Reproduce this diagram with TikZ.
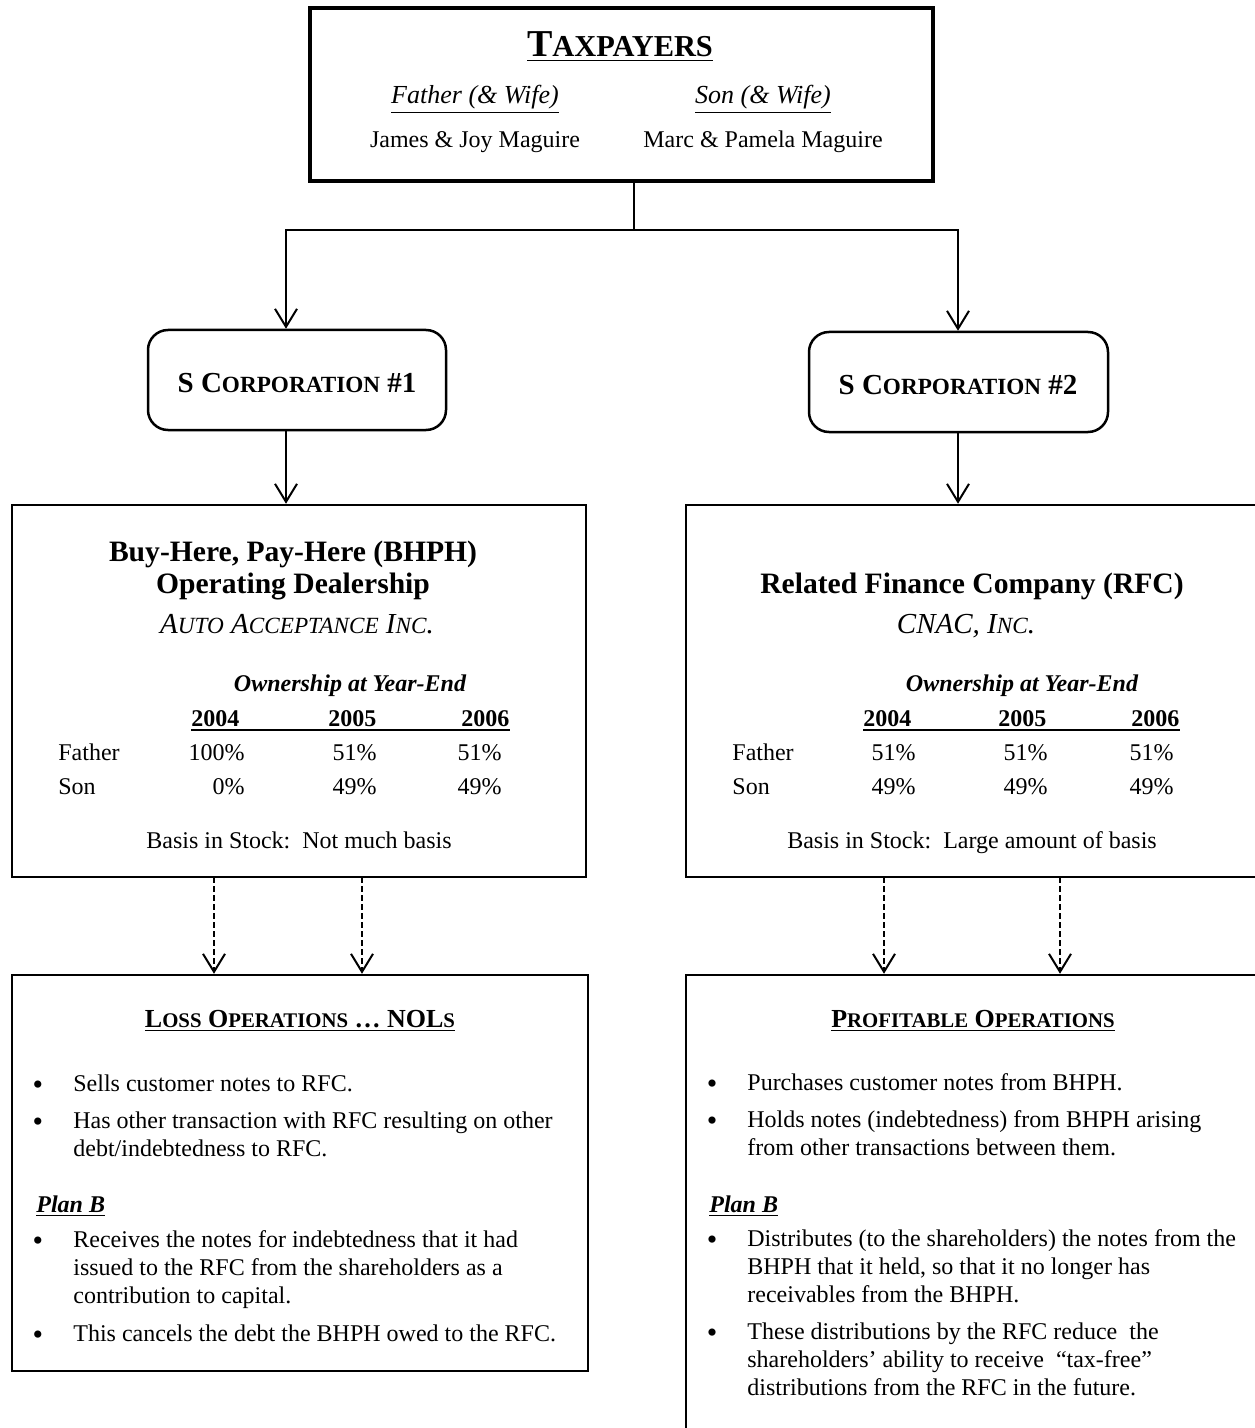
\documentclass[tikz,border=0pt]{standalone}
\usepackage{fontspec}
\setmainfont{Liberation Serif}
\usetikzlibrary{positioning,arrows.meta}
% fake small caps, as the scan has them
\newcommand{\fsc}[1]{{\fontsize{\fpeval{0.8*\csname f@size\endcsname}}{0}\selectfont #1}}
\tikzset{
  bx/.style={draw, line width=1.25pt, inner sep=0pt},
  rbx/.style={bx, rounded corners=10pt},
  ln/.style={line width=1pt},
  ar/.style={-{Straight Barb[length=9pt,width=11pt,line width=1pt]}, line width=1pt},
  dar/.style={ar, dash pattern=on 3pt off 1.5pt},
  tx/.style={inner sep=0pt, anchor=base, align=left, font=\fontsize{12}{14}\selectfont},
  lt/.style={tx, anchor=base west},
  vl/.style={tx, anchor=base east},
  bul/.style={tx, yshift=-1.5pt, font=\fontsize{15}{14}\selectfont},
  yr/.style={lt, font=\bfseries\fontsize{12}{14}\selectfont},
  hd/.style={tx, font=\bfseries\fontsize{14.8}{17}\selectfont},
  sub/.style={tx, font=\itshape\fontsize{14.5}{17}\selectfont},
  own/.style={tx, font=\bfseries\itshape\fontsize{12}{14}\selectfont},
  pb/.style={lt, font=\bfseries\itshape\fontsize{12}{14}\selectfont},
  sct/.style={tx, font=\bfseries\fontsize{13}{15}\selectfont}
}
\begin{document}
\begin{tikzpicture}[x=0.5pt,y=-0.5pt]
\useasboundingbox (0,0) rectangle (1254,1428);
% boxes
\node[bx, line width=2pt, minimum width=311.5pt, minimum height=86.5pt] (tax) at (621.5,94.5) {};
\node[rbx, minimum width=149pt, minimum height=50pt] (sc1) at (297,380) {};
\node[rbx, minimum width=149.5pt, minimum height=50pt] (sc2) at (958.5,382) {};
\node[bx, minimum width=287pt, minimum height=186pt] (bhph) at (299,691) {};
\node[bx, minimum width=287pt, minimum height=186pt] (rfc) at (973,691) {};
\node[bx, minimum width=288pt, minimum height=198pt] (loss) at (300,1173) {};
\node[bx, minimum width=287pt, minimum height=242.5pt] (prof) at (973,1217.5) {};

% taxpayers
\node[tx, font=\bfseries\fontsize{19}{22}\selectfont] (ttl) at (620,57) {\underline{T\fsc{AXPAYERS}}};
\node[tx, font=\itshape\fontsize{13}{15}\selectfont] (fa) at (475,104) {\underline{Father (\& Wife)}};
\node[tx, font=\itshape\fontsize{13}{15}\selectfont] (so) at (763,104) {\underline{Son (\& Wife)}};
\node[tx] (fan) at (475,148) {James \& Joy Maguire};
\node[tx] (son) at (763,148) {Marc \& Pamela Maguire};

% s corporations
\node[tx, font=\bfseries\fontsize{14.5}{16}\selectfont] (s1t) at (297,393) {S C\fsc{ORPORATION} \#1};
\node[tx, font=\bfseries\fontsize{14.5}{16}\selectfont] (s2t) at (958,394) {S C\fsc{ORPORATION} \#2};

% dealership
\node[hd] (bh1) at (293,561) {Buy-Here, Pay-Here (BHPH)};
\node[hd] (bh2) at (293,593) {Operating Dealership};
\node[sub] (bh3) at (297,633) {A\fsc{UTO} A\fsc{CCEPTANCE} I\fsc{NC}.};
\node[own] (bho) at (350,691) {Ownership at Year-End};
\node[yr] (by1) at (191,726) {2004};
\node[yr] (by2) at (328,726) {2005};
\node[yr] (by3) at (461,726) {2006};
\draw[line width=0.8pt] (by1.base west) ++(0,4) coordinate (bu) -- (bu -| by3.east);
\node[lt] (bfa) at (58,760) {Father};
\node[lt] (bso) at (58,794) {Son};
\node[vl] (bf1) at (245,760) {100\%};
\node[vl] (bf2) at (377,760) {51\%};
\node[vl] (bf3) at (502,760) {51\%};
\node[vl] (bs1) at (245,794) {0\%};
\node[vl] (bs2) at (377,794) {49\%};
\node[vl] (bs3) at (502,794) {49\%};
\node[tx] (bba) at (299,848) {Basis in Stock:\ \ Not much basis};

% finance company
\node[hd] (rf1) at (972,593) {Related Finance Company (RFC)};
\node[sub] (rf2) at (966,633) {CNAC, I\fsc{NC}.};
\node[own] (rfo) at (1022,691) {Ownership at Year-End};
\node[yr] (ry1) at (863,726) {2004};
\node[yr] (ry2) at (998,726) {2005};
\node[yr] (ry3) at (1131,726) {2006};
\draw[line width=0.8pt] (ry1.base west) ++(0,4) coordinate (ru) -- (ru -| ry3.east);
\node[lt] (rfa) at (732,760) {Father};
\node[lt] (rso) at (732,794) {Son};
\node[vl] (rf1v) at (916,760) {51\%};
\node[vl] (rf2v) at (1048,760) {51\%};
\node[vl] (rf3v) at (1174,760) {51\%};
\node[vl] (rs1v) at (916,794) {49\%};
\node[vl] (rs2v) at (1048,794) {49\%};
\node[vl] (rs3v) at (1174,794) {49\%};
\node[tx] (rba) at (972,848) {Basis in Stock:\ \ Large amount of basis};

% loss operations
\node[sct] (lst) at (300,1027) {\underline{L\fsc{OSS} O\fsc{PERATIONS} \ldots{} NOL\fsc{S}}};
\node[bul] (lb1) at (38,1091) {\textbullet};
\node[lt] (lt1) at (73,1091) {Sells customer notes to RFC.};
\node[bul] (lb2) at (38,1128) {\textbullet};
\node[lt] (lt2) at (73,1156) {Has other transaction with RFC resulting on other\\debt/indebtedness to RFC.};
\node[pb] (lpb) at (36,1212) {\underline{Plan B}};
\node[bul] (lb3) at (38,1247) {\textbullet};
\node[lt] (lt3) at (73,1303) {Receives the notes for indebtedness that it had\\issued to the RFC from the shareholders as a\\contribution to capital.};
\node[bul] (lb4) at (38,1341) {\textbullet};
\node[lt] (lt4) at (73,1341) {This cancels the debt the BHPH owed to the RFC.};

% profitable operations
\node[sct] (pst) at (973,1027) {\underline{P\fsc{ROFITABLE} O\fsc{PERATIONS}}};
\node[bul] (pb1) at (712,1090) {\textbullet};
\node[lt] (pt1) at (747,1090) {Purchases customer notes from BHPH.};
\node[bul] (pb2) at (712,1127) {\textbullet};
\node[lt] (pt2) at (747,1155) {Holds notes (indebtedness) from BHPH arising\\from other transactions between them.};
\node[pb] (ppb) at (709,1212) {\underline{Plan B}};
\node[bul] (pb3) at (712,1246) {\textbullet};
\node[lt] (pt3) at (747,1302) {Distributes (to the shareholders) the notes from the\\BHPH that it held, so that it no longer has\\receivables from the BHPH.};
\node[bul] (pb4) at (712,1339) {\textbullet};
\node[lt] (pt4) at (747,1395) {These distributions by the RFC reduce\ \ the\\shareholders' ability to receive\ \ ``tax-free''\\distributions from the RFC in the future.};

% connectors
\coordinate (jn) at (634,230);
\coordinate (jl) at (286,230);
\coordinate (jr) at (958,230);
\draw[ln] (tax.south -| jn) -- (jn);
\draw[ar] (jn) -- (jl) -- (jl |- sc1.north);
\draw[ar] (jn) -- (jr) -- (jr |- sc2.north);
\draw[ar] (sc1.south -| jl) -- (jl |- bhph.north);
\draw[ar] (sc2.south -| jr) -- (jr |- rfc.north);
\coordinate (d1) at (214,877);
\coordinate (d2) at (362,877);
\coordinate (d3) at (884,877);
\coordinate (d4) at (1060,877);
\foreach \d in {d1,d2,d3,d4}
  \draw[dar] (\d) -- (\d |- loss.north);
\end{tikzpicture}
\end{document}
